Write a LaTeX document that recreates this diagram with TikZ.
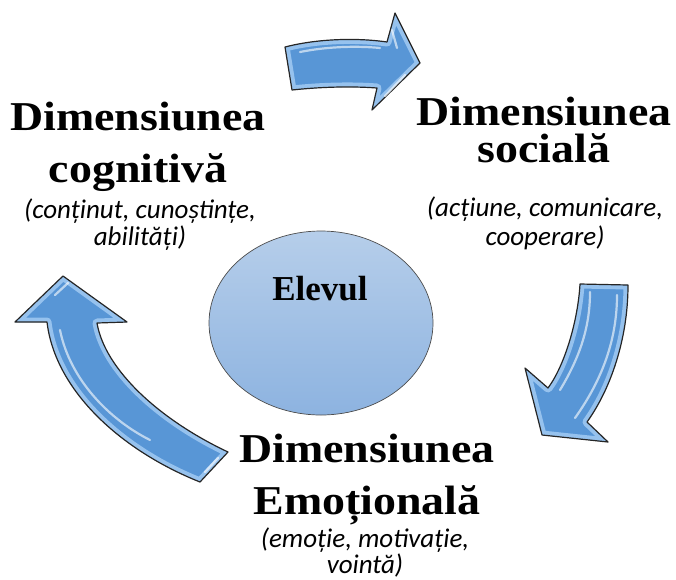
\documentclass[tikz,border=0pt]{standalone}
\usepackage{fontspec}
\usetikzlibrary{shapes.geometric}
\setmainfont{Liberation Serif}
\newfontfamily\calfont{Carlito}
\begin{document}
\begin{tikzpicture}[x=1pt,y=-1pt]
\definecolor{arrowblue}{RGB}{88,150,214}
\definecolor{arrowlight}{RGB}{150,194,238}
\definecolor{elltop}{RGB}{182,206,234}
\definecolor{ellbot}{RGB}{141,179,224}
\tikzset{
  arrowshape/.style={draw=black!85, line width=1.2pt, line join=round},
  rim/.style={draw=arrowlight, line width=9pt, line join=round},
  glint/.style={draw=white, opacity=0.6, line width=2.2pt, line cap=round},
  title/.style={font=\fontsize{41}{41}\selectfont\bfseries, anchor=base, inner sep=0pt, align=center},
  sub/.style={font=\calfont\itshape\fontsize{27}{27}\selectfont, anchor=base, inner sep=0pt, align=center},
}
\newcommand{\wide}[1]{\scalebox{1.12}[1]{#1}}
\def\toparrow{(285,47) .. controls (320,38) and (360,38) .. (387,42) -- (395,13) -- (420,63) -- (372,110) -- (377,88) .. controls (350,86) and (320,87) .. (292,90) -- cycle}
\def\rightarrow{(580,284) -- (628,285) .. controls (628,340) and (610,390) .. (587,422) -- (608,442) -- (542,435) -- (525,368) -- (548,388) .. controls (565,365) and (578,320) .. (580,284) -- cycle}
\def\leftarrow{(63,276) -- (127,322) -- (97,323) .. controls (105,370) and (160,420) .. (228,452) -- (200,482) .. controls (120,450) and (55,390) .. (47,322) -- (15,322) -- cycle}
\useasboundingbox (0,0) rectangle (676,579);
% arrows: fill, light inner rim, outline
\foreach \p in {\toparrow,\rightarrow,\leftarrow}{
  \fill[arrowblue] \p;
  \begin{scope}
    \clip \p;
    \draw[rim] \p;
  \end{scope}
  \draw[arrowshape] \p;
}
% glints
\draw[glint] (300,52) .. controls (330,46) and (360,46) .. (380,48);
\draw[glint] (392,30) -- (397,48);
\draw[glint] (385,96) -- (405,75);
\draw[glint] (590,292) .. controls (590,330) and (578,360) .. (560,390);
\draw[glint] (617,295) .. controls (617,340) and (602,380) .. (575,418);
\draw[glint] (55,295) -- (68,283);
\draw[glint] (60,330) .. controls (70,380) and (110,420) .. (150,440);
\draw[glint] (205,472) -- (218,458);
% ellipse
\node[draw=black!70, line width=0.7pt, shape=ellipse, minimum width=224pt, minimum height=184pt, top color=elltop, bottom color=ellbot] (ell) at (321,323) {};
\node[font=\fontsize{35}{35}\selectfont\bfseries, anchor=base, inner sep=0pt] (elev) at (320,300) {Elevul};
% left text (anchor base = baseline of last line)
\node[title] (ct) at (138,182) {\wide{Dimensiunea}\\[11pt]\wide{cognitivă}};
\node[sub] (cs) at (140,245) {(conținut, cunoștințe,\\[-0.5pt]abilități)};
% right text
\node[title] (st) at (544,162) {\wide{Dimensiunea}\\[-4pt]\wide{socială}};
\node[sub] (ss) at (545,245) {(acțiune, comunicare,\\[2pt]cooperare)};
% bottom text
\node[title] (et) at (367,514) {\wide{Dimensiunea}\\[11pt]\wide{Emoțională}};
\node[sub] (es) at (365,573) {(emoție, motivație,\\[-1pt]vointă)};
\end{tikzpicture}
\end{document}
